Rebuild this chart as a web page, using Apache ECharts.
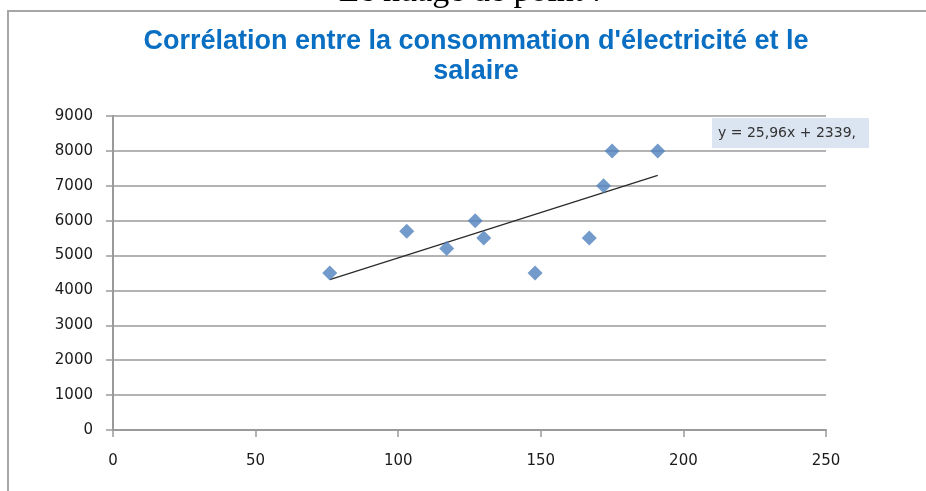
<!DOCTYPE html>
<html>
<head>
<meta charset="utf-8">
<title>Corrélation entre la consommation d'électricité et le salaire</title>
<script src="https://cdn.jsdelivr.net/npm/echarts@6/dist/echarts.min.js"></script>
<style>
  html, body { margin: 0; padding: 0; background: #ffffff; }
  #chart { width: 926px; height: 491px; }
</style>
</head>
<body>
<div id="chart"></div>
<script>
// consommation d'électricité (x) et salaire (y)
const consommation = [76, 103, 117, 127, 130, 148, 167, 172, 175, 191];
const salaire = [4500, 5700, 5200, 6000, 5500, 4500, 5500, 7000, 8000, 8000];

// courbe de tendance : extrémités (y = 25,96x + 2339)
const trendX = [76, 191];
const trendY = [4312, 7297];
const equation = "y = 25,96x + 2339,";

const xTicks = [0, 50, 100, 150, 200, 250];
const yTicks = [0, 1000, 2000, 3000, 4000, 5000, 6000, 7000, 8000, 9000];

const gray = "#9a9a9a";
const labelFont = "DejaVu Sans";

const chart = echarts.init(document.getElementById("chart"));

chart.setOption({
    animation: false,
    backgroundColor: "#ffffff",

    grid: {
        left: 113,
        right: 100,
        top: 116,
        bottom: 61
    },

    xAxis: {
        type: "value",
        min: xTicks[0],
        max: xTicks[xTicks.length - 1],
        interval: xTicks[1] - xTicks[0],
        axisLine: { lineStyle: { color: gray, width: 2 } },
        axisTick: { show: true, length: 7, lineStyle: { color: gray, width: 1.5 } },
        axisLabel: {
            margin: 24,
            color: "#1a1a1a",
            fontFamily: labelFont,
            fontSize: 15,
            formatter: v => String(v)
        },
        splitLine: { show: false }
    },

    yAxis: {
        type: "value",
        min: yTicks[0],
        max: yTicks[yTicks.length - 1],
        interval: yTicks[1] - yTicks[0],
        axisLine: { show: true, lineStyle: { color: gray, width: 2 } },
        axisTick: { show: true, length: 7, lineStyle: { color: gray, width: 1.5 } },
        axisLabel: {
            margin: 20,
            color: "#1a1a1a",
            fontFamily: labelFont,
            fontSize: 15,
            formatter: v => String(v)
        },
        splitLine: { show: true, lineStyle: { color: gray, width: 1.5 } }
    },

    series: [
        {
            name: "Tendance",
            type: "line",
            data: trendX.map((x, i) => [x, trendY[i]]),
            symbol: "none",
            lineStyle: { color: "#2a2a2a", width: 1.2 },
            z: 2
        },
        {
            name: "Salaire",
            type: "scatter",
            data: consommation.map((x, i) => [x, salaire[i]]),
            symbol: "diamond",
            symbolSize: [15, 15],
            itemStyle: { color: "#4f81bd" },
            z: 3
        }
    ],

    graphic: [
        {
            type: "rect",
            silent: true,
            shape: { x: 8, y: 11, width: 1000, height: 600 },
            style: { fill: "none", stroke: "#a6a6a6", lineWidth: 2 },
            z: -10
        },
        {
            type: "text",
            silent: true,
            x: 470,
            y: 9,
            style: {
                text: "Le nuage de point :",
                font: "34px 'Liberation Serif'",
                fill: "#000000",
                align: "center",
                textAlign: "center",
                verticalAlign: "bottom",
                textVerticalAlign: "bottom"
            }
        },
        {
            type: "text",
            silent: true,
            x: 476,
            y: 27,
            style: {
                text: "Corrélation entre la consommation d'électricité et le\nsalaire",
                font: "bold 27px 'Liberation Sans'",
                lineHeight: 30,
                fill: "#0a6fc2",
                align: "center",
                textAlign: "center",
                verticalAlign: "top",
                textVerticalAlign: "top"
            }
        },
        {
            type: "rect",
            silent: true,
            shape: { x: 712, y: 118, width: 157, height: 30 },
            style: { fill: "#dbe5f1" }
        },
        {
            type: "text",
            silent: true,
            x: 718,
            y: 133,
            style: {
                text: equation,
                font: "14px 'DejaVu Sans'",
                fill: "#333333",
                align: "left",
                textAlign: "left",
                verticalAlign: "middle",
                textVerticalAlign: "middle"
            }
        }
    ]
});
</script>
</body>
</html>
